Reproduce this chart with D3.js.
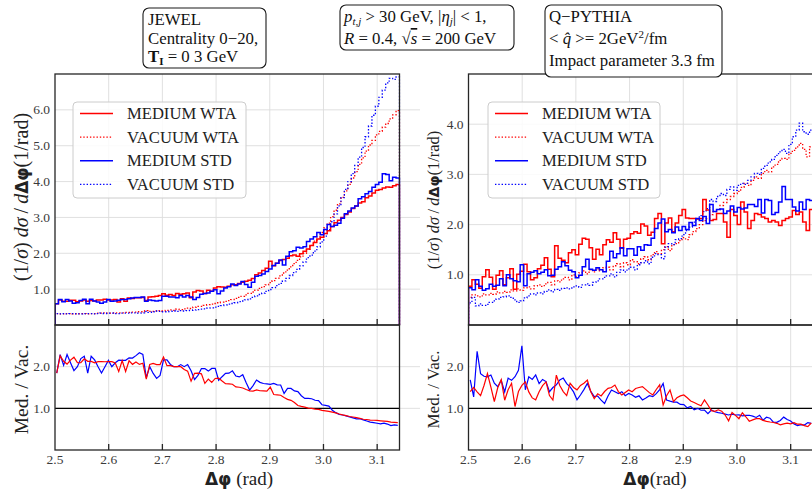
<!DOCTYPE html>
<html><head><meta charset="utf-8">
<script src="https://cdn.jsdelivr.net/npm/d3@7"></script>
<style>
html,body{margin:0;padding:0;background:#fff;}
text{font-family:"Liberation Serif","Times New Roman",serif;}
</style></head>
<body>
<script>
// ---------------- DATA ----------------
const xTickValues = [2.5, 2.6, 2.7, 2.8, 2.9, 3.0, 3.1];
const xTickLabels = ["2.5", "2.6", "2.7", "2.8", "2.9", "3.0", "3.1"];
const yTicksJewel = [1, 2, 3, 4, 5, 6];
const yLabelsJewel = ["1.0", "2.0", "3.0", "4.0", "5.0", "6.0"];
const yTicksQP = [1, 2, 3, 4];
const yLabelsQP = ["1.0", "2.0", "3.0", "4.0"];
const ratioTicks = [1, 2];
const ratioLabels = ["1.0", "2.0"];
const seriesNames = ["MEDIUM WTA", "VACUUM WTA", "MEDIUM STD", "VACUUM STD"];
const nBins = 100;

// JEWEL panel (left)
const jewelMedWTA = [
0.59,0.70,0.66,0.66,0.69,0.69,0.65,0.67,0.70,0.66,
0.68,0.67,0.70,0.70,0.72,0.70,0.70,0.71,0.64,0.73,
0.66,0.75,0.74,0.76,0.76,0.77,0.68,0.78,0.79,0.80,
0.82,0.87,0.83,0.85,0.82,0.88,0.86,0.87,0.89,0.76,
0.92,0.96,0.95,0.88,0.97,0.94,1.03,1.07,1.06,1.05,
1.08,1.12,1.12,1.16,1.19,1.22,1.25,1.30,1.40,1.45,
1.52,1.58,1.78,1.65,1.72,1.80,1.83,1.86,1.93,1.95,
1.92,1.99,2.06,2.12,2.22,2.30,2.40,2.45,2.55,2.63,
2.75,2.85,2.92,3.00,3.08,3.15,3.25,3.32,3.40,3.44,
3.55,3.60,3.68,3.76,3.78,3.82,3.85,3.84,3.88,3.92];
const jewelVacWTA = [
0.32,0.31,0.31,0.32,0.32,0.31,0.31,0.32,0.32,0.31,
0.32,0.32,0.33,0.33,0.34,0.33,0.33,0.34,0.34,0.34,
0.35,0.35,0.36,0.36,0.37,0.37,0.40,0.38,0.38,0.39,
0.40,0.39,0.41,0.42,0.41,0.44,0.43,0.45,0.47,0.46,
0.50,0.52,0.52,0.55,0.57,0.58,0.60,0.62,0.64,0.66,
0.68,0.71,0.74,0.77,0.80,0.84,0.88,0.92,0.97,1.02,
1.07,1.12,1.18,1.24,1.30,1.37,1.45,1.53,1.62,1.71,
1.80,1.90,2.00,2.11,2.22,2.34,2.46,2.58,2.71,2.84,
3.02,3.20,3.38,3.56,3.74,3.92,4.10,4.28,4.48,4.66,
4.85,5.02,5.15,5.30,5.40,5.52,5.62,5.75,5.86,5.98];
const jewelMedSTD = [
0.59,0.71,0.65,0.71,0.67,0.61,0.62,0.68,0.72,0.59,
0.72,0.67,0.64,0.61,0.64,0.71,0.66,0.67,0.69,0.71,
0.71,0.73,0.75,0.77,0.77,0.78,0.66,0.70,0.68,0.67,
0.68,0.80,0.80,0.78,0.78,0.76,0.82,0.78,0.82,0.78,
0.71,0.77,0.86,0.88,0.89,0.94,0.98,0.87,0.95,1.03,
1.07,1.14,1.10,1.14,1.21,1.13,1.05,1.19,1.36,1.38,
1.42,1.49,1.56,1.66,1.72,1.81,1.67,1.92,2.04,2.07,
2.17,2.15,2.18,2.33,2.40,2.46,2.58,2.52,2.66,2.80,
2.75,2.78,2.84,2.98,3.10,3.18,3.26,3.32,3.52,3.58,
3.66,3.72,3.84,3.92,3.98,4.22,4.20,4.02,4.12,4.10];
const jewelVacSTD = [
0.32,0.31,0.32,0.31,0.32,0.32,0.31,0.31,0.32,0.32,
0.32,0.31,0.32,0.33,0.32,0.33,0.33,0.32,0.32,0.33,
0.33,0.33,0.34,0.34,0.33,0.34,0.38,0.35,0.37,0.39,
0.38,0.37,0.37,0.38,0.39,0.38,0.40,0.39,0.40,0.41,
0.42,0.43,0.44,0.45,0.47,0.48,0.50,0.52,0.54,0.56,
0.58,0.60,0.62,0.65,0.67,0.70,0.73,0.77,0.81,0.85,
0.89,0.94,0.99,1.04,1.10,1.16,1.23,1.30,1.38,1.46,
1.55,1.65,1.76,1.88,1.95,2.06,2.18,2.32,2.48,2.66,
2.88,3.10,3.32,3.55,3.78,4.00,4.22,4.45,4.68,4.95,
5.25,5.55,5.85,6.10,6.35,6.55,6.75,6.88,6.85,6.92];

// Q-PYTHIA panel (right)
const qpMedWTA = [
0.77,0.90,0.81,0.73,0.96,1.10,0.95,0.71,0.99,1.08,
0.80,0.94,1.12,0.71,1.01,1.07,1.21,1.06,0.90,0.94,
1.12,1.19,1.34,1.11,0.96,1.58,1.33,1.29,1.24,1.44,
1.50,1.40,1.61,1.73,1.71,1.54,1.31,1.51,1.40,1.60,
1.70,1.65,1.84,1.71,1.53,1.71,1.73,1.82,1.86,1.83,
2.01,1.97,1.79,1.85,2.12,2.22,1.62,2.03,2.13,1.86,
2.03,2.18,2.30,2.13,2.12,2.12,2.11,2.12,2.50,2.29,
2.08,2.10,2.22,2.22,2.05,1.75,2.30,2.18,2.00,2.45,
2.25,1.92,2.08,2.22,2.20,2.15,2.12,2.05,2.08,2.05,
1.98,2.08,2.12,2.15,2.28,2.20,2.25,2.05,1.88,2.30];
const qpVacWTA = [
0.55,0.60,0.58,0.56,0.62,0.60,0.63,0.61,0.66,0.64,
0.67,0.65,0.70,0.68,0.72,0.69,0.74,0.76,0.72,0.78,
0.80,0.77,0.82,0.85,0.80,0.88,0.86,0.92,0.95,0.90,
1.00,0.97,1.04,1.08,1.02,1.10,1.06,1.12,1.08,1.14,
1.15,1.10,1.18,1.22,1.16,1.24,1.20,1.30,1.26,1.22,
1.32,1.36,1.30,1.40,1.46,1.42,1.50,1.56,1.48,1.60,
1.62,1.68,1.74,1.70,1.80,1.86,1.92,2.00,2.08,2.12,
2.20,2.26,2.30,2.38,2.44,2.50,2.56,2.62,2.66,2.74,
2.82,2.78,2.88,2.95,2.92,3.02,3.08,3.05,3.15,3.20,
3.28,3.32,3.30,3.42,3.48,3.55,3.62,3.50,3.35,3.55];
const qpMedSTD = [
0.74,0.70,0.90,0.77,0.69,0.72,0.81,0.77,0.79,0.92,
0.78,1.00,0.92,0.88,0.86,1.20,0.78,1.02,1.05,1.08,
1.02,1.05,1.10,0.98,0.99,1.11,1.16,1.26,1.18,1.09,
1.06,0.94,0.99,1.16,1.31,1.11,1.09,1.14,1.10,1.06,
1.27,1.47,1.34,1.42,1.54,1.38,1.52,1.52,1.39,1.56,
1.49,1.60,1.59,1.73,1.92,2.03,2.11,1.86,1.90,1.84,
1.95,1.88,1.96,1.90,2.04,1.98,2.12,2.08,2.16,2.02,
2.40,2.26,2.30,2.31,2.22,2.27,2.37,2.25,2.34,2.31,
2.33,2.40,2.40,2.36,2.50,2.23,2.50,2.48,2.20,2.24,
2.45,2.76,2.50,2.50,2.35,2.27,2.45,2.30,2.50,2.48];
const qpVacSTD = [
0.44,0.55,0.38,0.42,0.39,0.41,0.45,0.48,0.52,0.55,
0.56,0.58,0.55,0.50,0.45,0.48,0.54,0.58,0.62,0.60,
0.64,0.62,0.67,0.70,0.66,0.71,0.69,0.73,0.74,0.72,
0.76,0.78,0.75,0.80,0.82,0.79,0.85,0.88,0.92,0.95,
0.98,1.02,0.96,1.05,1.10,1.06,1.12,1.15,1.10,1.20,
1.24,1.28,1.22,1.35,1.42,1.40,1.32,1.55,1.62,1.60,
1.70,1.72,1.80,1.88,1.95,2.05,2.12,2.18,2.26,2.32,
2.50,2.46,2.56,2.62,2.58,2.70,2.75,2.68,2.78,2.82,
2.80,2.88,2.95,3.02,3.00,3.12,3.18,3.25,3.30,3.38,
3.45,3.50,3.42,3.60,3.75,3.88,4.02,3.85,3.80,3.88];

// ---------------- DRAW ----------------
const W = 812, H = 490;
const RED = "#ff0000", BLUE = "#0000ff";
const svg = d3.select("body").append("svg")
  .attr("width", W).attr("height", H)
  .attr("xmlns", "http://www.w3.org/2000/svg");
svg.append("rect").attr("width", W).attr("height", H).attr("fill", "#fff");

const topY = 74, midY = 325, botY = 450;
const xDomain = [2.5, Math.PI];
const edges = d3.range(nBins + 1).map(i => xDomain[0] + i * (xDomain[1] - xDomain[0]) / nBins);
const centers = d3.range(nBins).map(i => (edges[i] + edges[i + 1]) / 2);

function stepPoints(vals) {
  const pts = [[edges[0], 0]];
  vals.forEach((v, i) => { pts.push([edges[i], v]); pts.push([edges[i + 1], v]); });
  pts.push([edges[nBins], 0]);
  return pts;
}

function drawPanel(cfg) {
  const x = d3.scaleLinear().domain(xDomain).range([cfg.x0, cfg.x1]);
  const y = d3.scaleLinear().domain([0, cfg.ymax]).range([midY, topY]);
  const yr = d3.scaleLinear().domain([0, 3]).range([botY, midY]);
  const g = svg.append("g");
  const clipId = "clip" + cfg.id;
  svg.append("clipPath").attr("id", clipId).append("rect")
    .attr("x", cfg.x0).attr("y", topY - 1).attr("width", cfg.x1 - cfg.x0 + 1).attr("height", botY - topY + 2);

  const grid = g.append("g").attr("stroke", "#dcdcdc").attr("stroke-width", 0.9);
  xTickValues.slice(1).forEach(t => {
    grid.append("line").attr("x1", x(t)).attr("x2", x(t)).attr("y1", topY).attr("y2", midY);
    grid.append("line").attr("x1", x(t)).attr("x2", x(t)).attr("y1", midY).attr("y2", botY);
  });
  cfg.yTicks.forEach(t => grid.append("line").attr("x1", cfg.x0).attr("x2", cfg.gridEnd).attr("y1", y(t)).attr("y2", y(t)));
  ratioTicks.forEach(t => grid.append("line").attr("x1", cfg.x0).attr("x2", cfg.gridEnd).attr("y1", yr(t)).attr("y2", yr(t)));

  // reference line at ratio 1
  g.append("line").attr("x1", cfg.x0).attr("x2", cfg.x1).attr("y1", yr(1)).attr("y2", yr(1))
    .attr("stroke", "#000").attr("stroke-width", 1.1);

  const line = d3.line().x(d => x(d[0])).y(d => y(d[1]));
  const rline = d3.line().x(d => x(d[0])).y(d => yr(d[1]));
  const data = g.append("g").attr("clip-path", `url(#${clipId})`);
  const series = [
    {v: cfg.vacWTA, c: RED, dash: "1.4,1.9", w: 1.3},
    {v: cfg.vacSTD, c: BLUE, dash: "1.4,1.9", w: 1.3},
    {v: cfg.medWTA, c: RED, dash: null, w: 1.5},
    {v: cfg.medSTD, c: BLUE, dash: null, w: 1.5}
  ];
  series.forEach(s => {
    data.append("path").attr("d", line(stepPoints(s.v))).attr("fill", "none")
      .attr("stroke", s.c).attr("stroke-width", s.w)
      .attr("stroke-dasharray", s.dash).attr("stroke-linejoin", "miter");
  });
  const ratioWTA = centers.map((c, i) => [c, cfg.medWTA[i] / cfg.vacWTA[i]]);
  const ratioSTD = centers.map((c, i) => [c, cfg.medSTD[i] / cfg.vacSTD[i]]);
  data.append("path").attr("d", rline(ratioSTD)).attr("fill", "none").attr("stroke", BLUE).attr("stroke-width", 1.2);
  data.append("path").attr("d", rline(ratioWTA)).attr("fill", "none").attr("stroke", RED).attr("stroke-width", 1.2);

  // spines
  const sp = g.append("g").attr("stroke", "#262626").attr("stroke-width", 1.3).attr("fill", "none");
  sp.append("rect").attr("x", cfg.x0).attr("y", topY).attr("width", cfg.x1 - cfg.x0).attr("height", midY - topY);
  sp.append("rect").attr("x", cfg.x0).attr("y", midY).attr("width", cfg.x1 - cfg.x0).attr("height", botY - midY);
  // inward x ticks
  xTickValues.slice(1).forEach(t => {
    sp.append("line").attr("x1", x(t)).attr("x2", x(t)).attr("y1", midY).attr("y2", midY - 6);
    sp.append("line").attr("x1", x(t)).attr("x2", x(t)).attr("y1", botY).attr("y2", botY - 6);
  });

  // tick labels
  const tl = g.append("g").attr("fill", "#3a3a3a").style("font-size", "13.5px");
  xTickValues.forEach((t, i) => tl.append("text").attr("x", x(t)).attr("y", 464).attr("text-anchor", "middle").text(xTickLabels[i]));
  cfg.yTicks.forEach((t, i) => tl.append("text").attr("x", cfg.x0 - 5).attr("y", y(t) + 4.5).attr("text-anchor", "end").text(cfg.yLabels[i]));
  ratioTicks.forEach((t, i) => tl.append("text").attr("x", cfg.x0 - 5).attr("y", yr(t) + 4.5).attr("text-anchor", "end").text(ratioLabels[i]));

  // x label
  const xl = g.append("text").attr("x", cfg.xlabelX).attr("y", 485).attr("text-anchor", "middle")
    .attr("fill", "#222").style("font-size", "19px");
  xl.append("tspan").style("font-family", "'DejaVu Sans',sans-serif").style("font-weight", "bold").style("font-size", "17px").text("Δφ");
  xl.append("tspan").text(cfg.id === "L" ? " (rad)" : "(rad)");

  // y labels
  const yl = g.append("text").attr("transform", `translate(${cfg.ylabelX},${cfg.ylabelY}) rotate(-90)`)
    .attr("text-anchor", "middle").attr("fill", "#222").style("font-size", cfg.ylabelSize + "px");
  yl.append("tspan").text("(1/");
  yl.append("tspan").style("font-style", "italic").text("σ");
  yl.append("tspan").text(") ");
  yl.append("tspan").style("font-style", "italic").text("dσ");
  yl.append("tspan").text("\u2009/\u2009");
  yl.append("tspan").style("font-style", "italic").text("d");
  yl.append("tspan").style("font-family", "'DejaVu Sans',sans-serif").style("font-weight", "bold").style("font-size", (cfg.ylabelSize * 0.85) + "px").text("Δφ");
  yl.append("tspan").text("(1/rad)");

  g.append("text").attr("transform", `translate(${cfg.ylabelX},${(midY + botY) / 2 + 2}) rotate(-90)`)
    .attr("text-anchor", "middle").attr("fill", "#222").style("font-size", cfg.rlabelSize + "px").text("Med. / Vac.");

  // legend
  const lg = g.append("g");
  lg.append("rect").attr("x", cfg.legX).attr("y", 102).attr("width", cfg.legW).attr("height", 96)
    .attr("rx", 4).attr("fill", "#fff").attr("fill-opacity", 0.85).attr("stroke", "#cccccc").attr("stroke-width", 1);
  const legStyle = [
    {c: RED, dash: null}, {c: RED, dash: "1.4,1.9"}, {c: BLUE, dash: null}, {c: BLUE, dash: "1.4,1.9"}
  ];
  seriesNames.forEach((n, i) => {
    const yy = 113.5 + i * 23.6;
    lg.append("line").attr("x1", cfg.legX + 7).attr("x2", cfg.legX + 40).attr("y1", yy).attr("y2", yy)
      .attr("stroke", legStyle[i].c).attr("stroke-width", legStyle[i].dash ? 1.3 : 1.5)
      .attr("stroke-dasharray", legStyle[i].dash);
    lg.append("text").attr("x", cfg.legX + 54).attr("y", yy + 5.5).attr("fill", "#222")
      .style("font-size", "16.6px").text(n);
  });
}

drawPanel({id: "L", x0: 55, x1: 399.5, ymax: 7, yTicks: yTicksJewel, yLabels: yLabelsJewel, gridEnd: 420,
  medWTA: jewelMedWTA, vacWTA: jewelVacWTA, medSTD: jewelMedSTD, vacSTD: jewelVacSTD,
  xlabelX: 239, ylabelX: 28, ylabelY: 197, ylabelSize: 20, rlabelSize: 19.5, legX: 73, legW: 173});
drawPanel({id: "R", x0: 468.5, x1: 813, ymax: 5, yTicks: yTicksQP, yLabels: yLabelsQP, gridEnd: 813,
  medWTA: qpMedWTA, vacWTA: qpVacWTA, medSTD: qpMedSTD, vacSTD: qpVacSTD,
  xlabelX: 655, ylabelX: 439, ylabelY: 200, ylabelSize: 16.5, rlabelSize: 17, legX: 488, legW: 172});

// ---------------- annotation boxes ----------------
function box(x, y, w, h) {
  svg.append("rect").attr("x", x).attr("y", y).attr("width", w).attr("height", h).attr("rx", 6)
    .attr("fill", "#fff").attr("stroke", "#1a1a1a").attr("stroke-width", 1.1);
}
const fs = "16.8px";
box(143, 8, 123, 60);
const b1 = svg.append("g").attr("fill", "#111").style("font-size", fs);
b1.append("text").attr("x", 148).attr("y", 25).text("JEWEL");
b1.append("text").attr("x", 148).attr("y", 43.5).text("Centrality 0−20,");
const t13 = b1.append("text").attr("x", 148).attr("y", 62);
t13.append("tspan").style("font-weight", "bold").text("T");
t13.append("tspan").style("font-weight", "bold").style("font-size", "11px").attr("dy", 3).text("I");
t13.append("tspan").attr("dy", -3).text(" = 0 3 GeV");

box(340, 5, 174, 45);
const b2 = svg.append("g").attr("fill", "#111").style("font-size", fs);
const t21 = b2.append("text").attr("x", 344).attr("y", 22);
t21.append("tspan").style("font-style", "italic").text("p");
t21.append("tspan").style("font-style", "italic").style("font-size", "11px").attr("dy", 3).text("t,j");
t21.append("tspan").attr("dy", -3).text(" > 30 GeV, |");
t21.append("tspan").style("font-style", "italic").text("η");
t21.append("tspan").style("font-style", "italic").style("font-size", "11px").attr("dy", 3).text("j");
t21.append("tspan").attr("dy", -3).text("| < 1,");
const t22 = b2.append("text").attr("x", 344).attr("y", 44);
t22.append("tspan").style("font-style", "italic").text("R");
t22.append("tspan").text(" = 0.4, √");
t22.append("tspan").style("font-style", "italic").style("text-decoration", "overline").text("s");
t22.append("tspan").text(" = 200 GeV");

box(545, 5, 177, 72);
const b3 = svg.append("g").attr("fill", "#111").style("font-size", fs);
b3.append("text").attr("x", 549).attr("y", 22).text("Q−PYTHIA");
const t32 = b3.append("text").attr("x", 549).attr("y", 44);
t32.append("tspan").text("< ");
t32.append("tspan").style("font-style", "italic").text("q̂");
t32.append("tspan").text(" >= 2GeV");
t32.append("tspan").style("font-size", "11px").attr("dy", -6).text("2");
t32.append("tspan").attr("dy", 6).text("/fm");
b3.append("text").attr("x", 549).attr("y", 66).text("Impact parameter 3.3 fm");
</script>
</body></html>
